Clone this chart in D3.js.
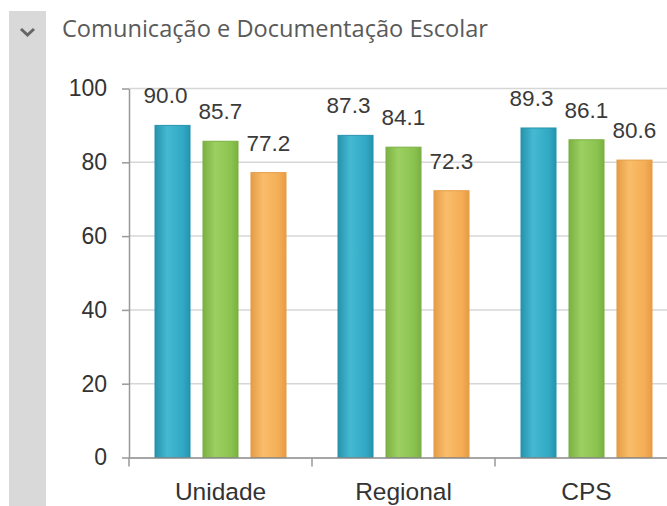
<!DOCTYPE html>
<html>
<head>
<meta charset="utf-8">
<script src="https://cdn.jsdelivr.net/npm/d3@7"></script>
<style>
  body { margin: 0; background: #fff; }
  svg { display: block; }
</style>
</head>
<body>
<div id="chart"></div>
<script>
// dados do grafico
var categories = ["Unidade", "Regional", "CPS"];
var serie1 = [90.0, 87.3, 89.3];
var serie2 = [85.7, 84.1, 86.1];
var serie3 = [77.2, 72.3, 80.6];
var yTicks = [0, 20, 40, 60, 80, 100];
var titleText = "Comunicação e Documentação Escolar";

var width = 667;
var height = 506;

var series = [serie1, serie2, serie3];
var colors = [
  { base: "#31a8c4", light: "#45b9d3", dark: "#2793ad" },
  { base: "#8bc34f", light: "#9cd062", dark: "#7bb042" },
  { base: "#f5ad55", light: "#f9bd6a", dark: "#e69c46" }
];
var labelDx = [-7, 0, 0];

var svg = d3.select("#chart").append("svg")
  .attr("width", width)
  .attr("height", height);

// gradientes das barras
var defs = svg.append("defs");
colors.forEach(function(c, i) {
  var g = defs.append("linearGradient")
    .attr("id", "grad" + i)
    .attr("x1", "0%").attr("x2", "100%")
    .attr("y1", "0%").attr("y2", "0%");
  g.append("stop").attr("offset", "0%").attr("stop-color", c.dark);
  g.append("stop").attr("offset", "35%").attr("stop-color", c.light);
  g.append("stop").attr("offset", "80%").attr("stop-color", c.base);
  g.append("stop").attr("offset", "100%").attr("stop-color", c.dark);
});

// barra lateral cinza
svg.append("rect")
  .attr("x", 9).attr("y", 11)
  .attr("width", 37).attr("height", height - 11)
  .attr("fill", "#d9d9d9");
svg.append("path")
  .attr("d", "M21,29 L27.5,35 L34,29")
  .attr("fill", "none")
  .attr("stroke", "#666")
  .attr("stroke-width", 3);

svg.append("text")
  .attr("x", 62).attr("y", 37)
  .attr("textLength", 426)
  .attr("lengthAdjust", "spacingAndGlyphs")
  .style("font-family", "'Open Sans', 'Noto Sans', sans-serif")
  .style("font-size", "23px")
  .style("fill", "#5a5a5a")
  .text(titleText);

var y = d3.scaleLinear().domain([0, 100]).range([457.5, 88.5]);
var x0 = d3.scaleBand().domain(categories).range([129, 678]);
var x1 = d3.scaleBand().domain([0, 1, 2]).range([26, x0.bandwidth() - 26]).paddingInner(0.27);

// grade
svg.append("g")
  .selectAll("line")
  .data(yTicks.filter(function(d) { return d > 0; }))
  .enter().append("line")
    .attr("x1", 129).attr("x2", width)
    .attr("y1", function(d) { return y(d); })
    .attr("y2", function(d) { return y(d); })
    .attr("stroke", "#d6d6d6")
    .attr("stroke-width", 1.5);

// eixo y
var yAxis = svg.append("g")
  .attr("transform", "translate(129,0)")
  .call(d3.axisLeft(y).tickValues(yTicks).tickSize(7).tickPadding(15).tickSizeOuter(0));
yAxis.select(".domain").attr("stroke", "#999").attr("stroke-width", 1.5);
yAxis.selectAll(".tick line").attr("stroke", "#999").attr("stroke-width", 1.5);
yAxis.selectAll("text")
  .style("font-family", "'Liberation Sans', Arial, sans-serif")
  .style("font-size", "23px")
  .style("fill", "#333");

// barras
var groups = svg.append("g")
  .selectAll("g")
  .data(categories)
  .enter().append("g")
    .attr("transform", function(d) { return "translate(" + x0(d) + ",0)"; });

groups.selectAll("rect")
  .data(function(d, ci) { return series.map(function(s, si) { return { s: si, v: s[ci] }; }); })
  .enter().append("rect")
    .attr("x", function(d) { return x1(d.s); })
    .attr("y", function(d) { return y(d.v); })
    .attr("width", x1.bandwidth())
    .attr("height", function(d) { return y(0) - y(d.v); })
    .attr("fill", function(d) { return "url(#grad" + d.s + ")"; })
    .attr("stroke", function(d) { return colors[d.s].dark; })
    .attr("stroke-width", 1);

groups.selectAll("text")
  .data(function(d, ci) { return series.map(function(s, si) { return { s: si, v: s[ci] }; }); })
  .enter().append("text")
    .attr("x", function(d) { return x1(d.s) + x1.bandwidth() / 2 + labelDx[d.s]; })
    .attr("y", function(d) { return y(d.v) - 22; })
    .attr("text-anchor", "middle")
    .style("font-family", "'Liberation Sans', Arial, sans-serif")
    .style("font-size", "22.5px")
    .style("fill", "#3a3a3a")
    .text(function(d) { return d.v.toFixed(1); });

// eixo x
var xAxis = svg.append("g")
  .attr("transform", "translate(0," + y(0) + ")")
  .call(d3.axisBottom(x0).tickSize(0).tickSizeOuter(0));
xAxis.select(".domain").attr("stroke", "#888").attr("stroke-width", 1.5);
xAxis.selectAll("text")
  .attr("y", 42)
  .attr("dy", null)
  .style("font-family", "'Liberation Sans', Arial, sans-serif")
  .style("font-size", "24.5px")
  .style("fill", "#333");
xAxis.selectAll(".sep")
  .data(categories)
  .enter().append("line")
    .attr("class", "sep")
    .attr("x1", function(d) { return x0(d); })
    .attr("x2", function(d) { return x0(d); })
    .attr("y1", 0).attr("y2", 9)
    .attr("stroke", "#999")
    .attr("stroke-width", 1.5);
</script>
</body>
</html>
